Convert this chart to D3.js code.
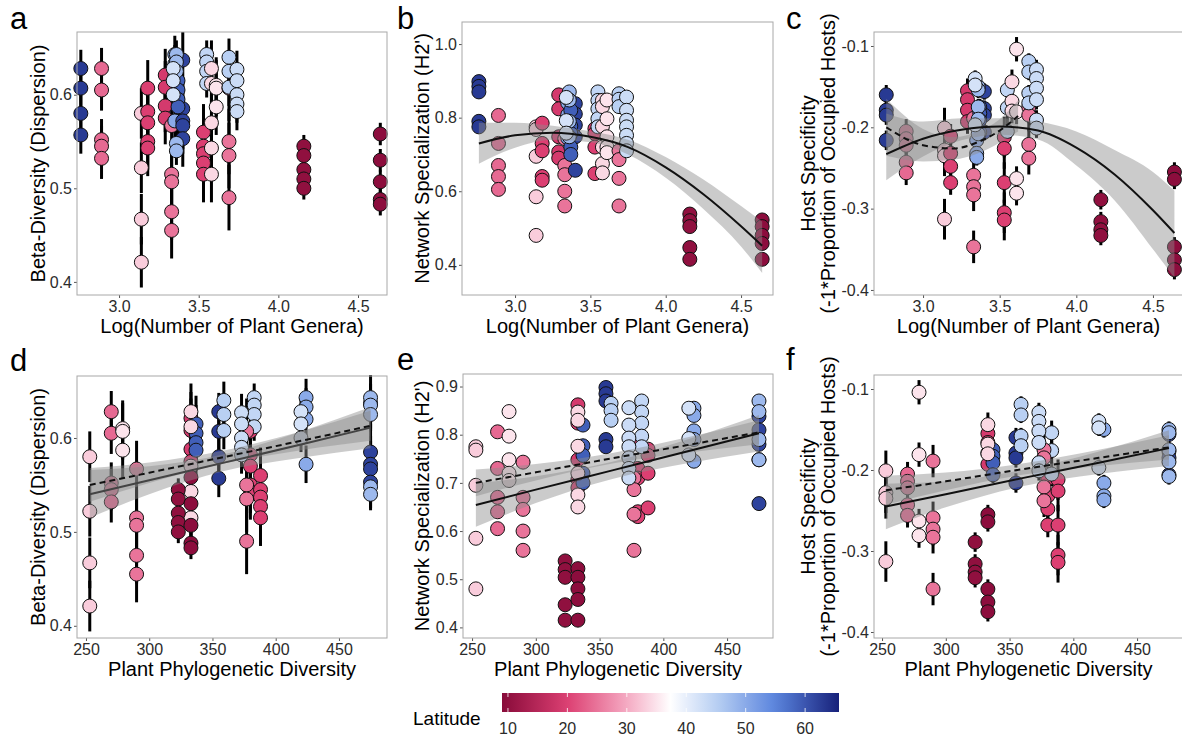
<!DOCTYPE html>
<html>
<head>
<meta charset="utf-8">
<script src="https://cdn.jsdelivr.net/npm/d3@7"></script>
<style>
  body { margin: 0; background: #fff; }
  svg text { font-family: "Liberation Sans", Arial, sans-serif; }
</style>
</head>
<body>
<div id="chart"></div>
<script>
// ---- site level data (one entry per site) ----
const latitude  = [63, 24, 33, 20, 19, 25, 50, 62, 59, 20, 44, 34, 35, 25, 45, 43, 10, 9.5, 48, 42];
const logGenera = [2.76, 2.89, 3.14, 3.18, 3.29, 3.33, 3.35, 3.40, 3.37, 3.53, 3.55, 3.58, 3.61, 3.69, 3.69, 3.74, 4.16, 4.64, 3.36, 3.34];
const phyloDiv  = [355, 270, 253, 380, 333, 290, 424, 475, 337, 388, 383, 333, 279, 377, 359, 373, 323, 333, 475, 420];

// beta-diversity (dispersion), one value per sample
const betaDisp = [
  [0.628, 0.607, 0.580, 0.557],
  [0.628, 0.605, 0.552, 0.545, 0.532],
  [0.580, 0.522, 0.467, 0.421],
  [0.607, 0.582, 0.570, 0.550, 0.543],
  [0.621, 0.608, 0.588, 0.575],
  [0.567, 0.515, 0.507, 0.475, 0.455],
  [0.643, 0.633, 0.620, 0.572],
  [0.637, 0.585, 0.572, 0.567, 0.553],
  [0.615, 0.605, 0.595, 0.587],
  [0.560, 0.545, 0.537, 0.527, 0.515],
  [0.643, 0.635, 0.625, 0.612],
  [0.628, 0.612, 0.570, 0.543, 0.515],
  [0.610, 0.607, 0.587],
  [0.607, 0.550, 0.535, 0.490],
  [0.640, 0.625, 0.608],
  [0.627, 0.615, 0.600, 0.590, 0.582],
  [0.545, 0.535, 0.520, 0.510, 0.500],
  [0.558, 0.530, 0.507, 0.488, 0.483],
  [0.643, 0.635, 0.625, 0.548, 0.540],
  [0.628, 0.615, 0.600]
];
const betaErr = [0.02, 0.022, 0.027, 0.03, 0.028, 0.03, 0.02, 0.03, 0.03, 0.03, 0.015, 0.03, 0.03, 0.035, 0.02, 0.02, 0.012, 0.012, 0.015, 0.015];

// network specialization H2'
const h2Spec = [
  [0.898, 0.885, 0.870, 0.790, 0.775],
  [0.806, 0.730, 0.670, 0.640, 0.605],
  [0.775, 0.768, 0.695, 0.585, 0.480],
  [0.785, 0.730, 0.710, 0.640, 0.630],
  [0.862, 0.824, 0.748, 0.707, 0.690],
  [0.743, 0.670, 0.645, 0.600, 0.560],
  [0.855, 0.840, 0.808, 0.790, 0.745],
  [0.838, 0.810, 0.780, 0.748, 0.657],
  [0.820, 0.777, 0.757, 0.720, 0.700],
  [0.770, 0.757, 0.720, 0.648],
  [0.870, 0.847, 0.824, 0.797, 0.775],
  [0.847, 0.830, 0.776, 0.720, 0.675, 0.650],
  [0.848, 0.797, 0.748, 0.720, 0.705],
  [0.710, 0.686, 0.635, 0.560],
  [0.865, 0.850, 0.830],
  [0.856, 0.820, 0.793, 0.775, 0.752, 0.730, 0.710],
  [0.538, 0.520, 0.504, 0.447, 0.415],
  [0.522, 0.504, 0.480, 0.458, 0.415],
  [0.870, 0.848, 0.790, 0.748],
  [0.855, 0.792, 0.758]
];

// host specificity (-1 * proportion of occupied hosts)
const hostSpec = [
  [-0.160, -0.179, -0.185, -0.216],
  [-0.205, -0.214, -0.222, -0.243, -0.256],
  [-0.201, -0.228, -0.235, -0.313],
  [-0.211, -0.232, -0.248, -0.268],
  [-0.155, -0.166, -0.179, -0.193],
  [-0.189, -0.259, -0.273, -0.283, -0.347],
  [-0.150, -0.216, -0.232, -0.237],
  [-0.156, -0.177, -0.185, -0.206],
  [-0.175, -0.183, -0.191, -0.206],
  [-0.212, -0.226, -0.268, -0.305, -0.314],
  [-0.154, -0.176, -0.205],
  [-0.144, -0.168, -0.180],
  [-0.104, -0.181, -0.263, -0.281],
  [-0.175, -0.185, -0.221, -0.238],
  [-0.119, -0.132, -0.158, -0.170],
  [-0.129, -0.140, -0.152, -0.166, -0.191, -0.201],
  [-0.289, -0.316, -0.326, -0.333],
  [-0.255, -0.264, -0.347, -0.363, -0.375],
  [-0.150, -0.154, -0.175, -0.190, -0.208],
  [-0.140, -0.148, -0.197]
];
const hostErr = [0.012, 0.015, 0.025, 0.015, 0.015, 0.02, 0.01, 0.01, 0.01, 0.025, 0.015, 0.015, 0.015, 0.02, 0.01, 0.012, 0.012, 0.012, 0.01, 0.01];

// fitted lines: [x, fit, lower, upper]
const fitH2Genera = [
  [2.76, 0.730, 0.675, 0.786], [3.00, 0.752, 0.718, 0.786], [3.25, 0.759, 0.740, 0.778],
  [3.50, 0.748, 0.733, 0.763], [3.75, 0.720, 0.700, 0.740], [4.00, 0.665, 0.637, 0.693],
  [4.25, 0.592, 0.552, 0.632], [4.50, 0.505, 0.450, 0.560], [4.64, 0.452, 0.378, 0.518]
];
const fitHostGenera = [
  [2.76, -0.233, -0.265, -0.183], [3.00, -0.214, -0.236, -0.193], [3.25, -0.203, -0.216, -0.189],
  [3.50, -0.199, -0.209, -0.189], [3.75, -0.204, -0.215, -0.193], [4.00, -0.225, -0.247, -0.205],
  [4.25, -0.258, -0.290, -0.228], [4.50, -0.302, -0.350, -0.255], [4.64, -0.330, -0.385, -0.278]
];
const fitHostGeneraDash = [
  [2.76, -0.200, -0.235, -0.165], [3.00, -0.222, -0.242, -0.202], [3.20, -0.226, -0.240, -0.212],
  [3.36, -0.218, -0.232, -0.205], [3.50, -0.204, -0.219, -0.190], [3.62, -0.186, -0.205, -0.167]
];
const fitBetaPD = [
  [253, 0.540, 0.515, 0.566], [300, 0.555, 0.540, 0.570], [360, 0.574, 0.565, 0.583],
  [420, 0.593, 0.579, 0.607], [475, 0.611, 0.589, 0.633]
];
const fitBetaPDDash = [
  [253, 0.550, 0.532, 0.568], [300, 0.563, 0.552, 0.574], [360, 0.580, 0.573, 0.587],
  [420, 0.597, 0.587, 0.607], [475, 0.613, 0.597, 0.629]
];
const fitH2PD = [
  [253, 0.654, 0.609, 0.699], [300, 0.686, 0.658, 0.714], [360, 0.726, 0.708, 0.744],
  [420, 0.766, 0.741, 0.791], [475, 0.803, 0.765, 0.841]
];
const fitH2PDDash = [
  [253, 0.700, 0.672, 0.728], [300, 0.722, 0.705, 0.739], [360, 0.751, 0.740, 0.762],
  [420, 0.779, 0.763, 0.795], [475, 0.805, 0.780, 0.830]
];
const fitHostPD = [
  [253, -0.245, -0.273, -0.217], [300, -0.230, -0.246, -0.214], [360, -0.210, -0.220, -0.200],
  [420, -0.191, -0.205, -0.177], [475, -0.173, -0.195, -0.151]
];
const fitHostPDDash = [
  [253, -0.225, -0.243, -0.207], [300, -0.214, -0.225, -0.203], [360, -0.199, -0.206, -0.192],
  [420, -0.185, -0.195, -0.175], [475, -0.172, -0.187, -0.157]
];

const latTicks = [10, 20, 30, 40, 50, 60];

// ---- colour scale for latitude ----
const latColor = d3.scaleLinear()
  .domain([9, 20, 30, 37.3, 45, 55, 65.7])
  .range(["#880b3a", "#dc3f72", "#f5a9c2", "#ffffff", "#b9d0f3", "#5a84de", "#17217a"])
  .interpolate(d3.interpolateRgb);

const W = 1182, H = 738;
const svg = d3.select("#chart").append("svg")
  .attr("width", W).attr("height", H);

const fmt1 = d => d.toFixed(1);
const fmt0 = d => d.toFixed(0);

const panels = [
  { letter: "a", lx: 10, ly: 29, left: 77, right: 387, top: 32, bottom: 295,
    xv: logGenera, xDomain: [2.736, 4.682], xTicks: [3.0, 3.5, 4.0, 4.5], xFmt: fmt1,
    yv: betaDisp, err: betaErr, yDomain: [0.386, 0.667], yTicks: [0.4, 0.5, 0.6], yFmt: fmt1,
    xTitle: "Log(Number of Plant Genera)", yTitle: ["Beta-Diversity (Dispersion)"], ytx: [38], fits: [] },
  { letter: "b", lx: 397, ly: 29, left: 462, right: 773, top: 22, bottom: 295,
    xv: logGenera, xDomain: [2.648, 4.712], xTicks: [3.0, 3.5, 4.0, 4.5], xFmt: fmt1,
    yv: h2Spec, err: null, yDomain: [0.318, 1.06], yTicks: [0.4, 0.6, 0.8, 1.0], yFmt: fmt1,
    xTitle: "Log(Number of Plant Genera)", yTitle: ["Network Specialization (H2')"], ytx: [422],
    fits: [{ d: fitH2Genera, dash: null }] },
  { letter: "c", lx: 786, ly: 29, left: 874, right: 1183, top: 32, bottom: 295,
    xv: logGenera, xDomain: [2.68, 4.696], xTicks: [3.0, 3.5, 4.0, 4.5], xFmt: fmt1,
    yv: hostSpec, err: hostErr, yDomain: [-0.4062, -0.0828], yTicks: [-0.4, -0.3, -0.2, -0.1], yFmt: fmt1,
    xTitle: "Log(Number of Plant Genera)", yTitle: ["Host Specificity", "(-1*Proportion of Occupied Hosts)"], ytx: [808, 828],
    fits: [{ d: fitHostGenera, dash: null }, { d: fitHostGeneraDash, dash: "6,4" }] },
  { letter: "d", lx: 10, ly: 371, left: 77, right: 387, top: 376, bottom: 638,
    xv: phyloDiv, xDomain: [242.9, 488], xTicks: [250, 300, 350, 400, 450], xFmt: fmt0,
    yv: betaDisp, err: betaErr, yDomain: [0.387, 0.666], yTicks: [0.4, 0.5, 0.6], yFmt: fmt1,
    xTitle: "Plant Phylogenetic Diversity", yTitle: ["Beta-Diversity (Dispersion)"], ytx: [38],
    fits: [{ d: fitBetaPD, dash: null, color: "#444" }, { d: fitBetaPDDash, dash: "6,4" }] },
  { letter: "e", lx: 397, ly: 370, left: 463, right: 773, top: 374, bottom: 638,
    xv: phyloDiv, xDomain: [242.9, 486], xTicks: [250, 300, 350, 400, 450], xFmt: fmt0,
    yv: h2Spec, err: null, yDomain: [0.378, 0.926], yTicks: [0.4, 0.5, 0.6, 0.7, 0.8, 0.9], yFmt: fmt1,
    xTitle: "Plant Phylogenetic Diversity", yTitle: ["Network Specialization (H2')"], ytx: [422],
    fits: [{ d: fitH2PD, dash: null }, { d: fitH2PDDash, dash: "6,4" }] },
  { letter: "f", lx: 786, ly: 370, left: 874, right: 1183, top: 375, bottom: 638,
    xv: phyloDiv, xDomain: [243.7, 486], xTicks: [250, 300, 350, 400, 450], xFmt: fmt0,
    yv: hostSpec, err: hostErr, yDomain: [-0.4074, -0.0827], yTicks: [-0.4, -0.3, -0.2, -0.1], yFmt: fmt1,
    xTitle: "Plant Phylogenetic Diversity", yTitle: ["Host Specificity", "(-1*Proportion of Occupied Hosts)"], ytx: [808, 828],
    fits: [{ d: fitHostPD, dash: null }, { d: fitHostPDDash, dash: "6,4" }] }
];

function drawPanel(p) {
  const x = d3.scaleLinear().domain(p.xDomain).range([p.left, p.right]);
  const y = d3.scaleLinear().domain(p.yDomain).range([p.bottom, p.top]);
  const g = svg.append("g");

  // axes
  const xa = g.append("g")
    .attr("transform", `translate(0,${p.bottom})`)
    .call(d3.axisBottom(x).tickValues(p.xTicks).tickFormat(p.xFmt).tickSize(3).tickPadding(3));
  const ya = g.append("g")
    .attr("transform", `translate(${p.left},0)`)
    .call(d3.axisLeft(y).tickValues(p.yTicks).tickFormat(p.yFmt).tickSize(3).tickPadding(2));
  [xa, ya].forEach(a => {
    a.select(".domain").remove();
    a.selectAll(".tick line").attr("stroke", "#555");
    a.selectAll(".tick text").attr("fill", "#2b2b2b").style("font-size", "16px");
  });

  // flatten the points
  const pts = [];
  p.yv.forEach((vals, i) => {
    vals.forEach(v => pts.push({ x: p.xv[i], y: v, lat: latitude[i], err: p.err ? p.err[i] : 0 }));
  });

  // error bars
  if (p.err) {
    g.append("g").selectAll("line")
      .data(pts)
      .join("line")
      .attr("x1", d => x(d.x)).attr("x2", d => x(d.x))
      .attr("y1", d => y(d.y - d.err)).attr("y2", d => y(d.y + d.err))
      .attr("stroke", "#000")
      .attr("stroke-width", 3);
  }

  // points
  g.append("g").selectAll("circle")
    .data(pts)
    .join("circle")
    .attr("cx", d => x(d.x))
    .attr("cy", d => y(d.y))
    .attr("r", 7)
    .attr("fill", d => latColor(d.lat))
    .attr("stroke", "#111")
    .attr("stroke-width", 1);

  // confidence bands, then lines
  const area = d3.area()
    .x(d => x(d[0])).y0(d => y(d[2])).y1(d => y(d[3]))
    .curve(d3.curveMonotoneX);
  const line = d3.line()
    .x(d => x(d[0])).y(d => y(d[1]))
    .curve(d3.curveMonotoneX);

  p.fits.forEach(f => {
    g.append("path")
      .attr("d", area(f.d))
      .attr("fill", "#8c8c8c")
      .attr("fill-opacity", 0.45);
  });
  p.fits.forEach(f => {
    g.append("path")
      .attr("d", line(f.d))
      .attr("fill", "none")
      .attr("stroke", f.color || "#111")
      .attr("stroke-width", 2)
      .attr("stroke-dasharray", f.dash);
  });

  // panel border
  g.append("rect")
    .attr("x", p.left).attr("y", p.top)
    .attr("width", p.right - p.left).attr("height", p.bottom - p.top)
    .attr("fill", "none")
    .attr("stroke", "#a8a8a8")
    .attr("stroke-width", 1);

  // titles
  g.append("text")
    .attr("x", (p.left + p.right) / 2)
    .attr("y", p.bottom + 38)
    .attr("text-anchor", "middle")
    .style("font-size", "20px")
    .text(p.xTitle);

  const cy = (p.top + p.bottom) / 2;
  p.yTitle.forEach((t, k) => {
    g.append("text")
      .attr("transform", `translate(${p.ytx[k]},${cy}) rotate(-90)`)
      .attr("text-anchor", "middle")
      .attr("dominant-baseline", "central")
      .style("font-size", "20px")
      .text(t);
  });

  g.append("text")
    .attr("x", p.lx).attr("y", p.ly)
    .style("font-size", "31px")
    .text(p.letter);
}

panels.forEach(drawPanel);

// ---- latitude colour bar ----
const barX = d3.scaleLinear().domain([9, 65.7]).range([502, 839]);
const defs = svg.append("defs");
const grad = defs.append("linearGradient").attr("id", "latGrad")
  .attr("x1", "0%").attr("x2", "100%").attr("y1", "0%").attr("y2", "0%");
d3.range(0, 1.0001, 0.05).forEach(t => {
  grad.append("stop")
    .attr("offset", `${t * 100}%`)
    .attr("stop-color", latColor(9 + t * (65.7 - 9)));
});

const leg = svg.append("g");
leg.append("rect")
  .attr("x", barX(9)).attr("y", 693)
  .attr("width", barX(65.7) - barX(9)).attr("height", 19)
  .attr("fill", "url(#latGrad)");

leg.selectAll(".tk")
  .data(latTicks)
  .join("g")
  .each(function (d) {
    const s = d3.select(this);
    s.append("line").attr("x1", barX(d)).attr("x2", barX(d)).attr("y1", 693).attr("y2", 697)
      .attr("stroke", "#fff").attr("stroke-opacity", 0.8);
    s.append("line").attr("x1", barX(d)).attr("x2", barX(d)).attr("y1", 708).attr("y2", 712)
      .attr("stroke", "#fff").attr("stroke-opacity", 0.8);
    s.append("text").attr("x", barX(d)).attr("y", 734)
      .attr("text-anchor", "middle")
      .attr("fill", "#2b2b2b")
      .style("font-size", "16px")
      .text(d);
  });

leg.append("text")
  .attr("x", 413).attr("y", 725)
  .style("font-size", "19px")
  .text("Latitude");
</script>
</body>
</html>
